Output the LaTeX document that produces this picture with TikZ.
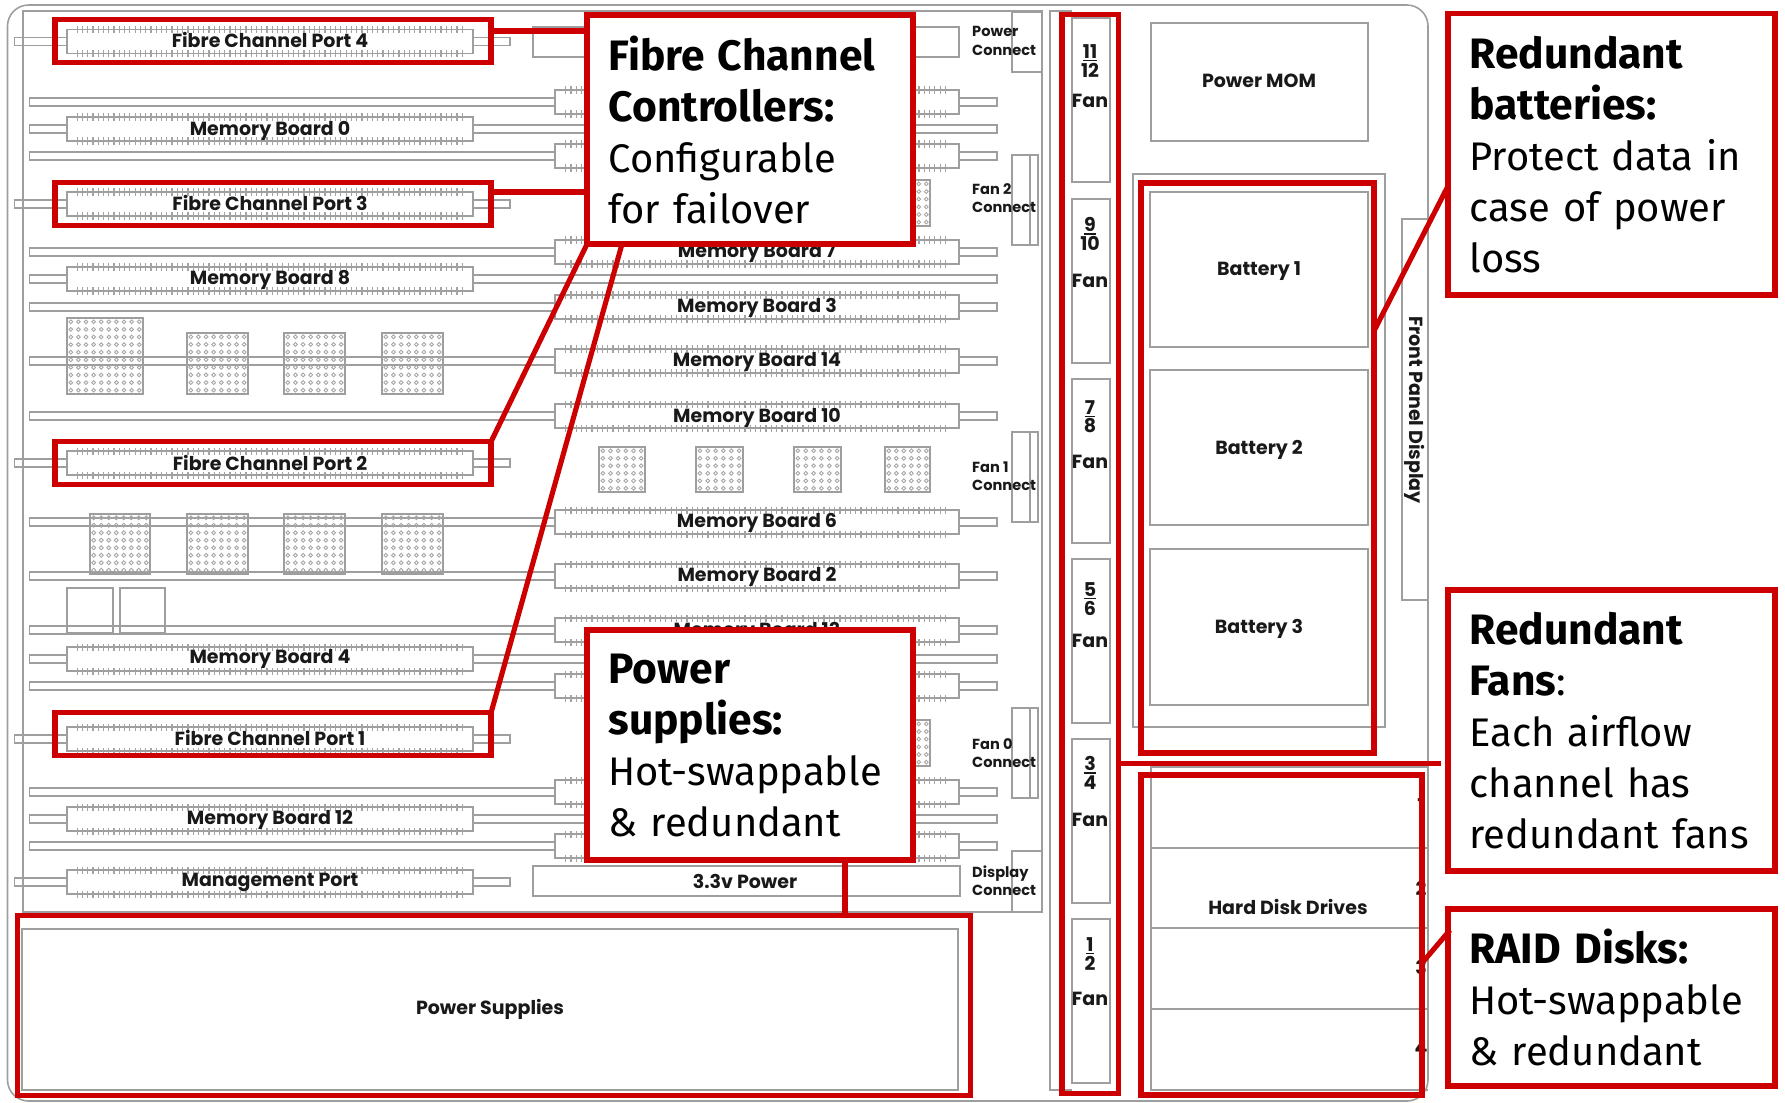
\documentclass[tikz,border=0pt]{standalone}
\usepackage{fontspec}
\newfontfamily\notefont{Fira Sans}
\newfontfamily\partfont{Poppins}
\definecolor{boxred}{HTML}{CC0000}
\newcommand\notehead[1]{{\bfseries\fontsize{12.1}{14.5}\selectfont #1}}
\newcommand\fanbar[1]{\setbox0\hbox{#1}\rlap{\raisebox{-0.75pt}{\rule{\wd0}{0.4pt}}}\box0}
\tikzset{
    part/.style={draw=black!38, line width=0.45pt},
    tickrow/.style={draw=black!36, line width=2pt, dash pattern=on 0.35pt off 1.15pt},
    partlabel/.style={font=\partfont\bfseries\fontsize{5.4}{6.6}\selectfont, text=black!90, inner sep=0pt, align=left},
    connlabel/.style={font=\partfont\bfseries\fontsize{4.15}{5.2}\selectfont, text=black!90, inner sep=0pt, align=left, anchor=west},
    redbox/.style={draw=boxred, line width=1.55pt, inner sep=0pt, outer sep=0pt},
    redline/.style={draw=boxred, line width=1.45pt},
    notebox/.style={draw=boxred, fill=white, line width=1.55pt, inner xsep=0.215cm, inner ysep=0pt, outer sep=0pt,
        align=left, font=\notefont\fontsize{11.35}{14.5}\selectfont},
}
\begin{document}
\begin{tikzpicture}[x=0.01cm, y=-0.01cm]
    \useasboundingbox (0,0) rectangle (1785,1102);
    % Chassis
    \draw[part, rounded corners=6pt] (7.5,5) rectangle (1428,1101);
    \draw[part] (23,912) -- (23,11) -- (1042,11) -- (1042,912) -- cycle;
    \draw[part] (1072,1090) -- (1050,1090) -- (1050,11) -- (1072,11);
    % Long bars with a board on the right
    \foreach \y in {102,156,252,307,361,416,522,576,630,686,792,846} {
        \draw[part] (29.5,\y-4) rectangle (555,\y+4);
        \draw[part] (555,\y-12) rectangle (959,\y+12);
        \draw[part] (959,\y-4) rectangle (997,\y+4);
        \draw[tickrow] (565,\y-12) -- (950,\y-12);
        \draw[tickrow] (565,\y+12) -- (950,\y+12);
    }
    % Boards on the left
    \foreach \y/\xa/\xb in {41.5/14.5/510, 129/29.5/997, 204/14.5/510, 279/29.5/997,
                            463/14.5/510, 659/29.5/997, 739/14.5/510, 819/29.5/997, 882/14.5/510} {
        \draw[part] (\xa,\y-4) rectangle (\xb,\y+4);
        \draw[part, fill=white] (67,\y-12) rectangle (473,\y+12);
        \draw[tickrow] (76.5,\y-12) -- (463,\y-12);
        \draw[tickrow] (76.5,\y+12) -- (463,\y+12);
    }
    % Labels of the boards
    \foreach \n/\y/\txt in {fca/40/Fibre Channel Port 4, mba/131/Memory Board 0, fcb/203/Fibre Channel Port 3,
                            mbb/280/Memory Board 8, fcc/463/Fibre Channel Port 2, mbc/659/Memory Board 4,
                            fcd/738/Fibre Channel Port 1, mbd/820/Memory Board 12, mgmt/882/Management Port} {
        \node[partlabel] (\n) at (270,\y) {\txt};
    }
    \foreach \n/\y/\txt in {mbe/253/Memory Board 7, mbf/308/Memory Board 3, mbg/362/Memory Board 14,
                            mbh/418/Memory Board 10, mbi/523/Memory Board 6, mbj/577/Memory Board 2,
                            mbk/632/Memory Board 13} {
        \node[partlabel] (\n) at (757,\y) {\txt};
    }
    % Chips
    \foreach \xa/\ya/\xb/\yb/\k in {67/318/143/394/10, 187/333/248/394/8, 284/333/345/394/8, 382/333/443/394/8,
                                    90/514/150/574/8, 187/514/248/574/8, 284/514/345/574/8, 382/514/443/574/8,
                                    599/447/645/492/6, 696/447/743/492/6, 794/447/841/492/6, 885/447/930/492/6,
                                    885/180/930/226/6, 885/720/930/766/6} {
        \draw[part] (\xa,\ya) rectangle (\xb,\yb);
        \pgfmathsetmacro\dx{(\xb-\xa)/\k}
        \pgfmathsetmacro\dy{(\yb-\ya)/\k}
        \foreach \i in {1,...,\k} {
            \foreach \j in {1,...,\k} {
                \draw[draw=black!35, line width=0.25pt] ({\xa+(\i-0.5)*\dx},{\ya+(\j-0.5)*\dy}) circle (1.9);
            }
        }
    }
    \draw[part] (67,588) rectangle (113,633);
    \draw[part] (120,588) rectangle (165,633);
    % Power rails
    \draw[part] (533,27) rectangle (959,57);
    \draw[part] (533,866) rectangle (960,896);
    \node[partlabel] (rail) at (745,881) {3.3v Power};
    % Connectors
    \draw[part] (1012,12) rectangle (1042,72);
    \draw[part] (1012,851) rectangle (1042,912);
    \foreach \y in {155,432,708} {
        \draw[part] (1012,\y) rectangle (1038,\y+90);
        \draw[part] (1030,\y) -- (1030,\y+90);
    }
    \node[connlabel] (pwrcon) at (971.5,41) {Power\\Connect};
    \node[connlabel] (fantwo) at (971.5,198) {Fan 2\\Connect};
    \node[connlabel] (fanone) at (971.5,476) {Fan 1\\Connect};
    \node[connlabel] (fanzero) at (971.5,753) {Fan 0\\Connect};
    \node[connlabel] (dispcon) at (971.5,881) {Display\\Connect};
    % Power supplies
    \draw[part] (22,929) rectangle (958,1090);
    \node[partlabel] (psu) at (490,1009) {Power Supplies};
    % Fans
    \foreach \n/\ya/\numa/\numb/\yl/\yf in {a/18/11/12/61/101, b/199/9/10/234/281, c/379/7/8/417/462,
                                            d/559/5/6/599/641, e/739/3/4/773/820, f/919/1/2/954/999} {
        \draw[part] (1072,\ya) rectangle (1110,\ya+164);
        \node[partlabel, align=center] (num\n) at (1090,\yl) {\fanbar{\numa}\\[-1.4pt]\numb};
        \node[partlabel] (fan\n) at (1090,\yf) {Fan};
    }
    % Right side
    \draw[part] (1151,23) rectangle (1368,141);
    \node[partlabel] (mom) at (1259,81) {Power MOM};
    \draw[part] (1133,174) rectangle (1385,727);
    \foreach \n/\ya/\yb/\txt in {bata/192/347/Battery 1, batb/370/525/Battery 2, batc/549/705/Battery 3} {
        \draw[part] (1150,\ya) rectangle (1368,\yb);
        \node[partlabel] (\n) at (1259,{(\ya+\yb)/2+2}) {\txt};
    }
    \draw[part] (1402,219) rectangle (1428,600);
    \node[partlabel, rotate=-90] (panel) at (1415,410) {Front Panel Display};
    \draw[part] (1428,767) -- (1151,767) -- (1151,1090) -- (1428,1090);
    \foreach \y in {848,928,1009} {
        \draw[part] (1151,\y) -- (1428,\y);
    }
    \node[partlabel] (hdd) at (1288,907) {Hard Disk Drives};
    \foreach \n/\y in {1/806,2/888,3/967,4/1048} {
        \node[partlabel] (disk\n) at (1421,\y) {\n};
    }
    % Red frames
    \node[redbox, minimum width=4.36cm, minimum height=0.43cm] (fcport4) at (273,41) {};
    \node[redbox, minimum width=4.36cm, minimum height=0.43cm] (fcport3) at (273,204) {};
    \node[redbox, minimum width=4.36cm, minimum height=0.43cm] (fcport2) at (273,463) {};
    \node[redbox, minimum width=4.36cm, minimum height=0.43cm] (fcport1) at (273,734) {};
    \node[redbox, minimum width=9.52cm, minimum height=1.80cm] (psubox) at (494,1005.5) {};
    \node[redbox, minimum width=0.565cm, minimum height=10.78cm] (fanbox) at (1090.2,554) {};
    \node[redbox, minimum width=2.33cm, minimum height=5.70cm] (batbox) at (1257.5,468) {};
    \node[redbox, minimum width=2.81cm, minimum height=3.20cm] (raidbox) at (1281.5,935) {};
    % Callouts
    \node[notebox, anchor=north west, text width=2.83cm, minimum height=2.29cm] (fcnote) at (587,15)
        {\notehead{Fibre Channel\\Controllers:}\\Configurable\\for failover};
    \node[notebox, anchor=north west, text width=2.83cm, minimum height=2.30cm] (psnote) at (587,630)
        {\notehead{Power\\supplies:}\\Hot-swappable\\\& redundant};
    \node[notebox, anchor=north west, text width=2.84cm, minimum height=2.815cm] (batnote) at (1448,13.5)
        {\notehead{Redundant\\batteries:}\\Protect data in\\case of power\\loss};
    \node[notebox, anchor=north west, text width=2.84cm, minimum height=2.81cm] (fannote) at (1448,590)
        {\notehead{Redundant\\Fans}:\\Each airflow\\channel has\\redundant fans};
    \node[notebox, anchor=north west, text width=2.84cm, minimum height=1.77cm] (raidnote) at (1448,909)
        {\notehead{RAID Disks:}\\Hot-swappable\\\& redundant};
    % Leaders
    \coordinate (fourleft) at (491,31);
    \coordinate (fourright) at (587,31);
    \coordinate (threeleft) at (491,192);
    \coordinate (threeright) at (587,192);
    \coordinate (oneright) at (622,244);
    \coordinate (psutop) at (845,860);
    \coordinate (psubot) at (845,915.5);
    \coordinate (fanleft) at (1118.5,763.5);
    \coordinate (fanright) at (1440.5,763.5);
    \coordinate (batfrom) at (1448,186);
    \coordinate (batto) at (1375,329);
    \coordinate (raidfrom) at (1450,930);
    \coordinate (raidto) at (1422,963);
    \draw[redline] (fourleft) -- (fourright);
    \draw[redline] (threeleft) -- (threeright);
    \draw[redline] (fcport2.north east) -- (fcnote.south west);
    \draw[redline] (fcport1.north east) -- (oneright);
    \draw[redline] (psutop) -- (psubot);
    \draw[redline] (fanleft) -- (fanright);
    \draw[redline] (batfrom) -- (batto);
    \draw[redline] (raidfrom) -- (raidto);
\end{tikzpicture}
\end{document}
